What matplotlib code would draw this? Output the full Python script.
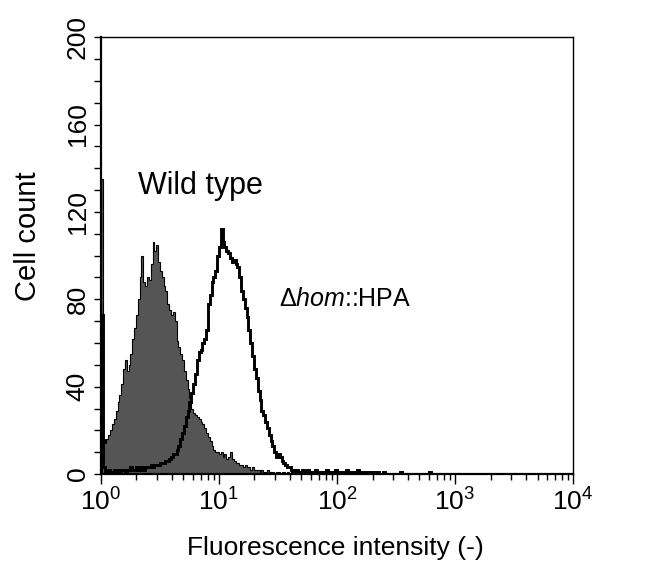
import numpy as np
import matplotlib
matplotlib.use("Agg")
import matplotlib.pyplot as plt
from matplotlib.ticker import FixedLocator, MultipleLocator, LogLocator, FuncFormatter, NullFormatter

plt.rcParams['font.family'] = ['Liberation Sans', 'DejaVu Sans']
plt.rcParams['mathtext.fontset'] = 'custom'
plt.rcParams['mathtext.rm'] = 'Liberation Sans'
plt.rcParams['mathtext.it'] = 'Liberation Sans:italic'
plt.rcParams['mathtext.bf'] = 'Liberation Sans:bold'

# 256 log channels over 4 decades (64 per decade)
channels_per_decade = 64
n_channels = 256

wild_type = [
    135, 16, 14, 16, 18, 20, 23, 25, 29, 33, 36, 41, 48, 52, 47, 50,
    55, 62, 67, 73, 80, 90, 100, 88, 86, 90, 89, 96, 106, 102, 105, 97,
    93, 90, 86, 84, 78, 75, 73, 74, 70, 61, 58, 55, 52, 47, 43, 39,
    35, 30, 28, 27, 26, 25, 24, 23, 21, 19, 17, 15, 13, 11, 10, 10,
    9, 10, 8, 9, 7, 8, 10, 7, 6, 5, 5, 4, 4, 3, 4, 3,
    3, 2, 3, 2, 2, 2, 1, 2, 1, 1, 2, 1, 1, 1, 0, 1,
    1, 0, 1, 1, 0, 1, 0, 1, 0, 1, 0, 0, 1, 0, 0, 1,
    0, 0, 1, 0, 0, 0, 1, 0, 0, 0, 1, 0, 0, 0, 0, 1,
    0, 0, 0, 0, 0, 0, 0, 0, 0, 0, 0, 0, 0, 0, 0, 0,
    0, 0, 0, 0, 0, 0, 0, 0, 0, 0, 0, 0, 0, 0, 0, 0,
    0, 0, 0, 0, 0, 0, 0, 0, 0, 0, 0, 0, 0, 0, 0, 0,
    0, 0, 0, 0, 0, 0, 0, 0, 0, 0, 0, 0, 0, 0, 0, 0,
    0, 0, 0, 0, 0, 0, 0, 0, 0, 0, 0, 0, 0, 0, 0, 0,
    0, 0, 0, 0, 0, 0, 0, 0, 0, 0, 0, 0, 0, 0, 0, 0,
    0, 0, 0, 0, 0, 0, 0, 0, 0, 0, 0, 0, 0, 0, 0, 0,
    0, 0, 0, 0, 0, 0, 0, 0, 0, 0, 0, 0, 0, 0, 0, 0,
]

hom_hpa = [
    73, 3, 1, 1, 2, 1, 1, 2, 1, 2, 1, 2, 2, 1, 2, 2,
    3, 2, 2, 3, 2, 3, 3, 2, 3, 3, 3, 4, 3, 4, 4, 4,
    5, 5, 5, 6, 6, 7, 8, 9, 9, 11, 13, 16, 19, 22, 26, 29,
    33, 37, 41, 46, 52, 56, 57, 60, 62, 66, 78, 82, 88, 90, 93, 100,
    104, 112, 106, 104, 102, 101, 99, 97, 98, 96, 95, 90, 84, 80, 76, 72,
    66, 60, 54, 48, 44, 38, 34, 29, 27, 24, 21, 18, 15, 13, 10, 8,
    9, 8, 6, 5, 4, 3, 3, 2, 2, 1, 2, 1, 1, 2, 1, 1,
    2, 1, 1, 1, 2, 1, 1, 1, 1, 1, 2, 1, 1, 1, 1, 2,
    1, 1, 1, 1, 1, 2, 1, 1, 1, 1, 1, 2, 1, 1, 1, 1,
    1, 0, 1, 1, 1, 0, 1, 0, 0, 1, 0, 0, 0, 0, 0, 0,
    0, 0, 1, 0, 0, 0, 0, 0, 0, 0, 0, 0, 0, 0, 0, 0,
    0, 0, 1, 0, 0, 0, 0, 0, 0, 0, 0, 0, 0, 0, 0, 0,
    0, 0, 0, 0, 0, 0, 0, 0, 0, 0, 0, 0, 0, 0, 0, 0,
    0, 0, 0, 0, 0, 0, 0, 0, 0, 0, 0, 0, 0, 0, 0, 0,
    0, 0, 0, 0, 0, 0, 0, 0, 0, 0, 0, 0, 0, 0, 0, 0,
    0, 0, 0, 0, 0, 0, 0, 0, 0, 0, 0, 0, 0, 0, 0, 0,
]

y_ticks = [0, 40, 80, 120, 160, 200]
x_decades = [0, 1, 2, 3, 4]
label_wt = "Wild type"
label_hpa = r"$\Delta\mathit{hom}$::HPA"
xlabel = "Fluorescence intensity (-)"
ylabel = "Cell count"

edges = 10.0 ** (np.arange(n_channels + 1) / channels_per_decade)

fig = plt.figure(figsize=(6.64, 5.63), dpi=100)
ax = fig.add_axes([0.152, 0.158, 0.711, 0.776])

ax.stairs(wild_type, edges, fill=True, color='#555555', zorder=2)
ax.stairs(wild_type, edges, color='black', lw=0.8, zorder=3)
ax.stairs(hom_hpa, edges, color='black', lw=2.1, zorder=4)

ax.set_xscale('log')
ax.set_xlim(1, 1e4)
ax.set_ylim(0, 200)

ax.xaxis.set_major_locator(FixedLocator([10.0 ** d for d in x_decades]))
ax.xaxis.set_major_formatter(FuncFormatter(lambda v, p: r'$\mathregular{10^{%d}}$' % round(np.log10(v))))
ax.xaxis.set_minor_locator(LogLocator(base=10, subs=np.arange(2, 10)))
ax.xaxis.set_minor_formatter(NullFormatter())

ax.yaxis.set_major_locator(FixedLocator(y_ticks))
ax.yaxis.set_minor_locator(MultipleLocator(10))

ax.tick_params(axis='both', which='both', direction='out', top=False, right=False, colors='black')
ax.tick_params(axis='x', which='major', length=7, width=1.0, labelsize=19, pad=3)
ax.tick_params(axis='x', which='minor', length=4, width=1.0)
ax.tick_params(axis='y', which='major', length=5, width=1.0, labelsize=19, pad=3)
ax.tick_params(axis='y', which='minor', length=5, width=1.0)
for lab in ax.get_yticklabels():
    lab.set_rotation(90)
    lab.set_va('center')

for s in ax.spines.values():
    s.set_linewidth(1.0)
ax.spines['bottom'].set_linewidth(1.6)
ax.spines['left'].set_linewidth(1.6)

fig.text(335 / 664, 1 - 548 / 563, xlabel, fontsize=19, ha='center', va='center')
fig.text(28 / 664, 1 - 236 / 563, ylabel, fontsize=21, ha='center', va='center', rotation=90)

ax.text(2.06, 132, label_wt, fontsize=22, ha='left', va='center')
ax.text(32, 80, label_hpa, fontsize=18, ha='left', va='center')

fig.savefig('out.png', dpi=100)
